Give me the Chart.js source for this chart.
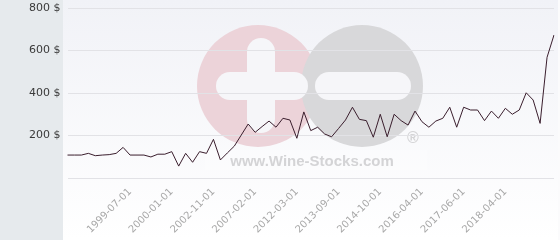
<!DOCTYPE html>
<html>
<head>
<meta charset="utf-8">
<script src="https://cdn.jsdelivr.net/npm/chart.js@4/dist/chart.umd.min.js"></script>
<style>
  html, body { margin: 0; padding: 0; background: #ffffff; }
  #wrap { width: 560px; height: 240px; position: relative; }
</style>
</head>
<body>
<div id="wrap"><canvas id="c" width="560" height="240"></canvas></div>
<script>
// ---- data ----
const prices = [
  108, 108, 108, 116, 105, 108, 110, 116, 144, 108,
  108, 108, 99, 112, 112, 124, 56, 116, 74, 124,
  116, 182, 85, 118, 150, 202, 254, 215, 242, 268,
  239, 281, 273, 187, 311, 223, 239, 207, 194, 233,
  273, 333, 276, 270, 192, 300, 194, 300, 270, 249,
  315, 265, 239, 268, 281, 333, 239, 333, 320, 320,
  270, 315, 281, 328, 300, 320, 401, 367, 257, 568,
  673
];
const dateTicks = [
  '1999-07-01', '2000-01-01', '2002-11-01', '2007-02-01', '2012-03-01',
  '2013-09-01', '2014-10-01', '2016-04-01', '2017-06-01', '2018-04-01'
];
const firstTickIndex = 9;
const tickStep = 6;
const yTicks = [0, 200, 400, 600, 800];

const categories = prices.map((_, i) => {
  const k = i - firstTickIndex;
  return (k >= 0 && k % tickStep === 0 && dateTicks[k / tickStep]) ? dateTicks[k / tickStep] : '';
});

// ---- decoration plugin (background + watermark) ----
const backdrop = {
  id: 'backdrop',
  beforeDraw(chart) {
    const ctx = chart.ctx;
    const W = chart.width, H = chart.height;
    ctx.save();
    const g = ctx.createLinearGradient(0, 0, 0, H);
    g.addColorStop(0, '#f1f2f7');
    g.addColorStop(1, '#ffffff');
    ctx.fillStyle = g;
    ctx.fillRect(0, 0, W, H);
    ctx.fillStyle = '#e6eaed';
    ctx.fillRect(0, 0, 63, H);
    ctx.fillStyle = '#fbfbfc';
    ctx.fillRect(558, 0, 2, H);

    // watermark
    ctx.fillStyle = '#ecd3d9';
    ctx.beginPath(); ctx.arc(258, 86, 61, 0, Math.PI * 2); ctx.fill();
    ctx.fillStyle = '#d8d8da';
    ctx.beginPath(); ctx.arc(362, 86, 61, 0, Math.PI * 2); ctx.fill();
    ctx.fillStyle = '#f6f6f9';
    const pill = (x, y, w, h) => {
      const r = Math.min(w, h) / 2;
      ctx.beginPath();
      ctx.roundRect(x, y, w, h, r);
      ctx.fill();
    };
    pill(247, 38, 28, 95);
    pill(216, 72, 92, 28);
    pill(315, 72, 96, 28);
    ctx.fillStyle = 'rgba(255,255,255,0.25)';
    ctx.fillRect(205, 150, 222, 20);
    ctx.fillStyle = '#d4d4d6';
    ctx.font = 'bold 15px "Liberation Sans", Arial, sans-serif';
    ctx.textAlign = 'center';
    ctx.textBaseline = 'alphabetic';
    ctx.fillText('www.Wine-Stocks.com', 312, 166);
    ctx.font = 'bold 16px "Liberation Sans", Arial, sans-serif';
    ctx.textBaseline = 'middle';
    ctx.fillText('\u00AE', 413, 139);
    ctx.restore();
  }
};

new Chart(document.getElementById('c'), {
  type: 'line',
  data: {
    labels: categories,
    datasets: [{
      data: prices,
      borderColor: '#3a1e2d',
      borderWidth: 1,
      pointRadius: 0,
      pointHoverRadius: 0,
      tension: 0,
      fill: false
    }]
  },
  options: {
    responsive: false,
    animation: false,
    events: [],
    layout: { padding: { top: 8, right: 6, left: 0, bottom: 0 } },
    plugins: { legend: { display: false }, tooltip: { enabled: false } },
    scales: {
      x: {
        offset: false,
        grid: { display: false, drawTicks: false },
        border: { display: false },
        afterFit(s) { s.height = 62; s.paddingLeft = 0; s.paddingRight = 0; },
        ticks: {
          autoSkip: false,
          minRotation: 45,
          maxRotation: 45,
          padding: 8,
          color: '#a8a8a8',
          font: { family: '"DejaVu Sans", sans-serif', size: 10 }
        }
      },
      y: {
        min: 0,
        max: 800,
        afterFit(s) { s.width = 67.5; s.paddingTop = 0; s.paddingBottom = 0; },
        afterBuildTicks(s) { s.ticks = yTicks.map(v => ({ value: v })); },
        grid: { color: '#e2e2e6', lineWidth: 1, drawTicks: false },
        border: { display: false },
        ticks: {
          padding: 7,
          color: '#3a3a3a',
          font: { family: '"DejaVu Sans", sans-serif', size: 11 },
          callback: v => v === 0 ? '' : v + ' $'
        }
      }
    }
  },
  plugins: [backdrop]
});
</script>
</body>
</html>
